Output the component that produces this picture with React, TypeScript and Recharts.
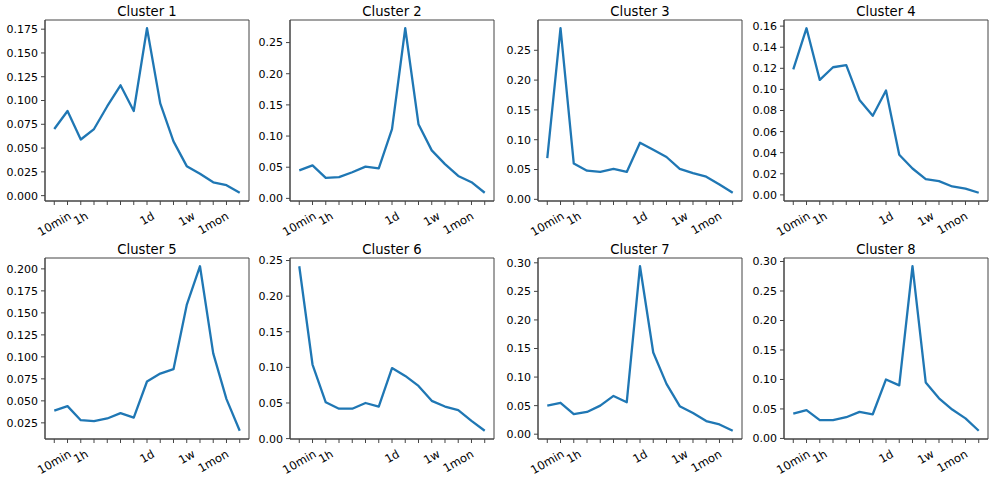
import React from 'react';
import { LineChart, Line, XAxis, YAxis, ReferenceArea } from 'recharts';

// 15 log-spaced time bins; labels only on some of them
const BINS = [0, 1, 2, 3, 4, 5, 6, 7, 8, 9, 10, 11, 12, 13, 14];
const BIN_LABELS = ['10min', '', '1h', '', '', '', '', '1d', '', '', '1w', '', '1mon', '', ''];

const C1 = [0.070, 0.089, 0.059, 0.070, 0.094, 0.116, 0.089, 0.176, 0.097, 0.057, 0.031, 0.023, 0.014, 0.011, 0.003];
const C2 = [0.045, 0.053, 0.033, 0.034, 0.042, 0.051, 0.048, 0.111, 0.273, 0.119, 0.077, 0.055, 0.036, 0.026, 0.009];
const C3 = [0.069, 0.287, 0.060, 0.048, 0.046, 0.051, 0.046, 0.095, 0.083, 0.071, 0.051, 0.044, 0.038, 0.025, 0.011];
const C4 = [0.119, 0.158, 0.109, 0.121, 0.123, 0.090, 0.075, 0.099, 0.038, 0.025, 0.015, 0.013, 0.008, 0.006, 0.002];
const C5 = [0.039, 0.044, 0.028, 0.027, 0.030, 0.036, 0.031, 0.072, 0.081, 0.086, 0.159, 0.203, 0.104, 0.052, 0.016];
const C6 = [0.242, 0.104, 0.051, 0.042, 0.042, 0.050, 0.045, 0.099, 0.088, 0.074, 0.053, 0.045, 0.040, 0.025, 0.011];
const C7 = [0.050, 0.055, 0.035, 0.039, 0.050, 0.067, 0.056, 0.294, 0.143, 0.088, 0.049, 0.037, 0.023, 0.017, 0.006];
const C8 = [0.042, 0.048, 0.031, 0.031, 0.036, 0.045, 0.041, 0.100, 0.090, 0.292, 0.095, 0.068, 0.049, 0.034, 0.013];

const T1 = [0, 0.025, 0.05, 0.075, 0.1, 0.125, 0.15, 0.175];
const T2 = [0, 0.05, 0.1, 0.15, 0.2, 0.25];
const T4 = [0, 0.02, 0.04, 0.06, 0.08, 0.1, 0.12, 0.14, 0.16];
const T5 = [0.025, 0.05, 0.075, 0.1, 0.125, 0.15, 0.175, 0.2];
const T7 = [0, 0.05, 0.1, 0.15, 0.2, 0.25, 0.3];

const PANELS = [
  { title: 'Cluster 1', values: C1, ticks: T1, dec: 3 },
  { title: 'Cluster 2', values: C2, ticks: T2, dec: 2 },
  { title: 'Cluster 3', values: C3, ticks: T2, dec: 2 },
  { title: 'Cluster 4', values: C4, ticks: T4, dec: 2 },
  { title: 'Cluster 5', values: C5, ticks: T5, dec: 3 },
  { title: 'Cluster 6', values: C6, ticks: T2, dec: 2 },
  { title: 'Cluster 7', values: C7, ticks: T7, dec: 2 },
  { title: 'Cluster 8', values: C8, ticks: T7, dec: 2 },
];

const COL_LEFT = [45, 290, 538, 784];
const ROW_TOP = [20, 258];
const PW = 204;
const PH = 181;
const YW = 45;
const XH = 40;
const FONT = '"DejaVu Sans", sans-serif';
const AXIS = '#444';

const CHAR_W: Record<string, number> = { '0': 0.636, '1': 0.636, m: 0.974, i: 0.278, n: 0.634, h: 0.634, d: 0.635, w: 0.818, o: 0.612 };

function RotTick(props: any) {
  const { x, y, payload } = props;
  const label = BIN_LABELS[payload.value] || '';
  if (!label) return null;
  const fs = 11.5;
  const w = label.split('').reduce((s: number, c: string) => s + (CHAR_W[c] || 0.6), 0) * fs;
  const h = fs * 1.16;
  const bh = w * 0.5 + h * 0.866;
  return (
    <text
      x={0}
      y={0}
      textAnchor="middle"
      dominantBaseline="central"
      fontSize={fs}
      fontFamily={FONT}
      fill="#000"
      transform={`translate(${x},${y + bh / 2}) rotate(-30)`}
    >
      {label}
    </text>
  );
}

function Panel({ p, left, top }: { p: any; left: number; top: number }) {
  const data = BINS.map((b, i) => ({ b, v: p.values[i] }));
  const lo = Math.min(...p.values);
  const hi = Math.max(...p.values);
  const pad = (hi - lo) * 0.05;
  return (
    <div style={{ position: 'absolute', left: left - YW, top: top - 20 }}>
      <LineChart width={YW + PW + 1} height={20 + PH + XH} data={data} margin={{ top: 20, right: 1, bottom: 0, left: 0 }}>
        <XAxis
          dataKey="b"
          type="number"
          domain={[-0.7, 14.7]}
          ticks={BINS}
          interval={0}
          height={XH}
          tickSize={4}
          tickMargin={4}
          stroke={AXIS}
          tick={<RotTick />}
        />
        <YAxis
          type="number"
          domain={[lo - pad, hi + pad]}
          ticks={p.ticks}
          interval={0}
          width={YW}
          tickSize={4}
          tickMargin={3}
          stroke={AXIS}
          tick={{ fontSize: 11, fill: '#000', fontFamily: FONT }}
          tickFormatter={(v: number) => v.toFixed(p.dec)}
        />
        <ReferenceArea x1={-0.7} x2={14.7} y1={lo - pad} y2={hi + pad} fill="none" stroke={AXIS} strokeWidth={1} />
        <Line
          type="linear"
          dataKey="v"
          stroke="#1f77b4"
          strokeWidth={2.3}
          strokeLinejoin="round"
          dot={false}
          isAnimationActive={false}
        />
      </LineChart>
    </div>
  );
}

export default function App() {
  return (
    <div style={{ position: 'absolute', left: 0, top: 0, width: 989, height: 477, background: '#fff', overflow: 'hidden' }}>
      {PANELS.map((p, i) => (
        <Panel key={p.title} p={p} left={COL_LEFT[i % 4]} top={ROW_TOP[Math.floor(i / 4)]} />
      ))}
      <svg width={989} height={477} style={{ position: 'absolute', left: 0, top: 0, pointerEvents: 'none' }}>
        {PANELS.map((p, i) => (
          <text
            key={p.title}
            x={COL_LEFT[i % 4] + PW / 2}
            y={ROW_TOP[Math.floor(i / 4)] - 4}
            textAnchor="middle"
            fontSize={13.2}
            fontFamily={FONT}
            fill="#000"
          >
            {p.title}
          </text>
        ))}
      </svg>
    </div>
  );
}
